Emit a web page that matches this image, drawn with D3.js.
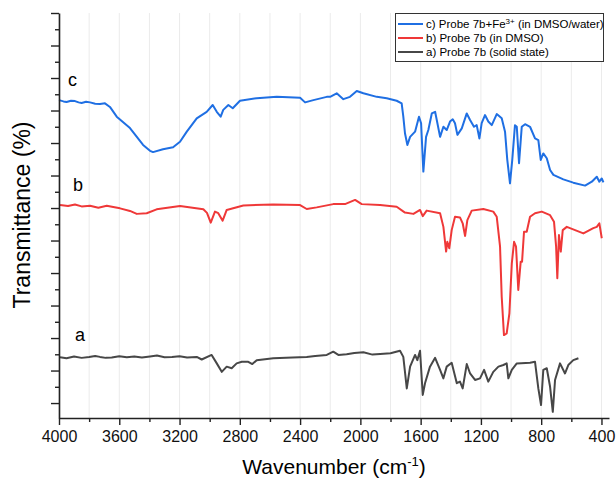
<!DOCTYPE html>
<html><head><meta charset="utf-8">
<script src="https://cdn.jsdelivr.net/npm/d3@7"></script>
<style>body{margin:0;background:#fff}svg{display:block}text{font-family:Arial,"Liberation Sans",sans-serif}</style>
</head><body>
<svg id="c" width="616" height="482"></svg>
<script>
// wavenumber (cm-1) / transmittance (offset, arbitrary %)
const waveC = [4000,3970,3950,3920,3894,3870,3850,3820,3794,3760,3728,3695,3662,3617,3529,3442,3396,3376,3310,3243,3197,3152,3086,3020,2980,2953,2927,2910,2876,2847,2799,2688,2555,2400,2367,2312,2223,2201,2157,2113,2069,2024,1980,1891,1825,1759,1726,1715,1704,1688,1670,1637,1611,1597,1582,1564,1549,1526,1504,1493,1471,1449,1427,1405,1387,1372,1356,1327,1294,1272,1246,1228,1210,1195,1173,1151,1128,1095,1062,1040,1025,1007,992,974,962,947,929,907,874,841,819,803,786,763,741,719,653,587,509,464,431,414,398,387];
const valC  = [93.2,92.8,92.6,93.0,92.9,92.5,92.3,92.7,92.5,92.1,92.0,92.2,91.1,88.1,84.6,79.4,77.6,77.2,78.1,78.7,80.4,83.5,87.6,89.6,91.7,89.6,88.1,90.2,91.7,90.7,93.0,93.8,94.2,93.9,92.5,93.2,94.2,94.2,95.3,93.5,94.2,96.0,95.3,94.2,93.8,93.0,92.2,88.1,83.0,79.4,81.9,83.5,88.1,86.1,71.2,81.9,84.0,89.1,89.6,87.1,81.9,85.0,84.0,86.6,87.3,86.1,82.5,84.5,89.1,87.1,85.0,85.5,81.4,86.1,88.6,86.6,85.5,88.9,87.6,83.5,74.8,67.6,74.8,85.5,85.0,73.8,85.0,85.8,85.0,81.4,80.9,74.8,76.8,75.3,71.7,70.2,68.8,67.8,66.9,68.1,69.6,68.1,69.1,67.9];

const waveB = [3993,3940,3894,3850,3794,3739,3683,3640,3595,3529,3484,3418,3352,3197,3042,3018,2993,2965,2943,2914,2887,2777,2578,2400,2356,2290,2180,2102,2035,1991,1869,1759,1704,1648,1604,1586,1560,1471,1449,1431,1423,1410,1394,1372,1339,1321,1305,1290,1261,1184,1118,1095,1073,1062,1047,1029,1011,995,980,967,952,936,927,914,896,874,841,796,741,715,701,693,682,670,657,630,520,454,431,414,398];
const valB  = [60.9,60.6,61.1,60.5,60.7,60.1,60.7,60.3,59.9,59.1,58.2,58.4,59.6,60.6,59.6,58.5,55.5,58.9,58.4,56.1,59.4,60.8,61.1,60.9,59.7,60.2,61.2,61.2,62.5,61.2,60.9,60.4,58.6,58.2,59.4,57.5,59.2,58.4,54.2,46.6,49.6,47.6,53.2,57.3,57.1,55.3,51.4,56.3,59.2,59.7,58.9,57.3,48.1,32.7,20.9,21.4,27.6,43.0,49.6,48.1,34.8,43.5,43.5,52.7,52.7,57.3,58.4,58.9,57.8,55.8,48.1,38.4,51.7,46.6,53.2,54.2,52.2,53.8,54.2,55.3,50.7];

const waveA = [3993,3950,3900,3850,3800,3760,3728,3690,3650,3600,3550,3500,3450,3396,3350,3300,3250,3200,3150,3086,3053,2987,2953,2920,2887,2854,2821,2787,2744,2717,2688,2578,2450,2356,2300,2223,2180,2146,2091,2040,1980,1920,1869,1800,1737,1715,1692,1670,1637,1622,1604,1586,1571,1538,1504,1471,1449,1427,1394,1360,1339,1321,1294,1272,1239,1206,1179,1151,1118,1084,1051,1029,1018,995,962,874,841,819,801,786,763,741,723,708,675,642,620,587,553];
const valA  = [14.1,13.8,14.3,13.9,14.2,14.5,14.2,13.9,14.0,14.4,14.1,14.3,14.0,14.3,14.6,14.1,14.2,14.4,14.0,14.2,13.4,14.8,12.2,9.6,11.2,10.7,12.2,12.7,12.7,12.0,13.2,13.8,14.0,14.2,14.5,14.8,15.8,14.8,15.0,15.4,15.6,14.9,15.1,15.3,16.1,14.2,4.5,11.2,14.8,13.2,16.1,2.5,6.1,11.2,13.9,10.2,7.6,11.2,12.4,6.1,6.6,4.5,12.0,9.1,7.1,7.6,10.2,6.6,9.6,11.2,11.7,12.2,7.6,10.2,12.2,12.4,12.7,4.5,-0.6,10.2,10.7,5.0,-2.7,7.1,12.2,9.1,11.7,13.2,13.8];

const xMajor = [4000,3600,3200,2800,2400,2000,1600,1200,800,400];
const xMinor = [3800,3400,3000,2600,2200,1800,1400,1000,600];
const xGrid  = [4000,3800,3600,3400,3200,3000,2800,2600,2400,2200,2000,1800,1600,1400,1200,1000,800,600,400];
const yMajor = [0,10,20,30,40,50,60,70,80,90,100,110,120];
const yMinor = [5,15,25,35,45,55,65,75,85,95,105,115];

const seriesNames = ["c","b","a"];
const legendLabels = [["c) Probe 7b+Fe","3+"," (in DMSO/water)"],["b) Probe 7b (in DMSO)","",""],["a) Probe 7b (solid state)","",""]];
const colors = {c:"#1f6fe3", b:"#ef3838", a:"#474747"};

const svg = d3.select("#c");
const L = 59, R = 609, T = 13, B = 418;
const x = d3.scaleLinear().domain([4000, 350]).range([L, R]);
const y = d3.scaleLinear().domain([-4.6, 120]).range([B, T]);

// grid
svg.append("g").selectAll("line").data(xGrid).join("line")
  .attr("x1", d => x(d)).attr("x2", d => x(d)).attr("y1", T).attr("y2", B)
  .attr("stroke", "#ebebeb").attr("stroke-width", 1);

const data = {
  c: waveC.map((w,i)=>[w,valC[i]]),
  b: waveB.map((w,i)=>[w,valB[i]]),
  a: waveA.map((w,i)=>[w,valA[i]])
};
const line = d3.line().x(d=>x(d[0])).y(d=>y(d[1]));
["a","b","c"].forEach(k=>{
  svg.append("path").attr("d", line(data[k])).attr("fill","none")
    .attr("stroke", colors[k]).attr("stroke-width", 2).attr("stroke-linejoin","round");
});

// axes
const fmt = d => d;
const gx = svg.append("g").attr("transform", `translate(0,${B})`);
gx.call(d3.axisBottom(x).tickValues(xMajor).tickSize(7).tickSizeOuter(0).tickPadding(6).tickFormat(fmt));
gx.append("g").call(d3.axisBottom(x).tickValues(xMinor).tickSize(4).tickSizeOuter(0).tickFormat(""))
  .select(".domain").remove();
const gy = svg.append("g").attr("transform", `translate(${L},0)`);
gy.call(d3.axisLeft(y).tickValues(yMajor).tickSize(8).tickSizeOuter(0).tickFormat(""));
gy.append("g").call(d3.axisLeft(y).tickValues(yMinor).tickSize(4).tickSizeOuter(0).tickFormat(""))
  .select(".domain").remove();
svg.selectAll(".domain").attr("stroke","#222").attr("stroke-width",1.6);
svg.selectAll(".tick line").attr("stroke","#222").attr("stroke-width",1.4);
gx.selectAll(".tick text").attr("font-size",16).attr("fill","#111").attr("font-family",'Arial,"Liberation Sans",sans-serif');

// series labels
svg.append("text").attr("x",68).attr("y",86).attr("font-size",18).text("c");
svg.append("text").attr("x",73).attr("y",191).attr("font-size",18).text("b");
svg.append("text").attr("x",75).attr("y",341).attr("font-size",18).text("a");

// axis titles
svg.append("text").attr("transform","translate(30,215) rotate(-90)").attr("text-anchor","middle")
  .attr("font-size",23).text("Transmittance (%)");
const xt = svg.append("text").attr("x",334).attr("y",474).attr("text-anchor","middle").attr("font-size",21);
xt.append("tspan").text("Wavenumber (cm");
xt.append("tspan").attr("font-size",13).attr("dy",-8).text("-1");
xt.append("tspan").attr("dy",8).text(")");

// legend
const lg = svg.append("g");
lg.append("rect").attr("x",395.5).attr("y",13.5).attr("width",208).attr("height",48)
  .attr("fill","#fff").attr("stroke","#333").attr("stroke-width",1);
seriesNames.forEach((k,i)=>{
  const yy = 24 + i*14;
  lg.append("line").attr("x1",398).attr("x2",423).attr("y1",yy).attr("y2",yy)
    .attr("stroke",colors[k]).attr("stroke-width",2);
  const t = lg.append("text").attr("x",426).attr("y",yy+4).attr("font-size",11.5);
  t.append("tspan").text(legendLabels[i][0]);
  if (legendLabels[i][1]) {
    t.append("tspan").attr("font-size",8).attr("dy",-4).text(legendLabels[i][1]);
    t.append("tspan").attr("dy",4).text(legendLabels[i][2]);
  }
});
</script>
</body></html>
